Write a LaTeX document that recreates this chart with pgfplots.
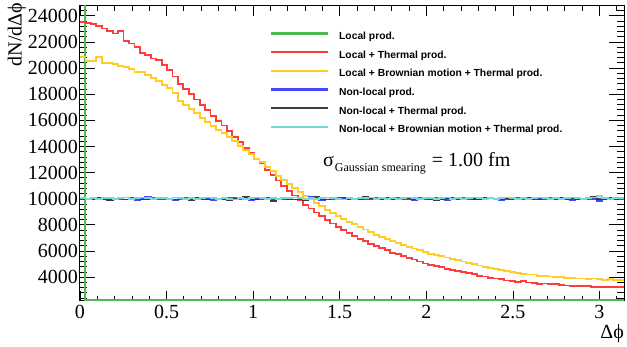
\documentclass[border=0pt]{standalone}
\usepackage{fontspec}
\setmainfont{Liberation Serif}
\setsansfont{Liberation Sans}
\usepackage{pgfplots}
\pgfplotsset{compat=1.18}
\usepackage{pgfplotstable}
\definecolor{rgreen}{RGB}{80,185,80}
\definecolor{rred}{RGB}{255,60,60}
\definecolor{ryellow}{RGB}{255,204,40}
\definecolor{rblue}{RGB}{70,70,255}
\definecolor{rblack}{RGB}{60,60,60}
\definecolor{rcyan}{RGB}{120,215,215}

\pgfplotstableread{
i red yel blu blk cya
0 23500 20850 10000 9950 10050
1 23420 20550 9950 10000 10000
2 23340 20550 10050 9950 10050
3 23210 20850 10000 10050 10000
4 23030 20400 9980 10000 10050
5 22850 20400 10020 9900 10050
6 22650 20300 9950 10000 10000
7 22850 20150 10000 10050 10050
8 22050 20100 10100 9950 10100
9 21880 19900 10050 10000 10000
10 21620 19700 9900 10100 10050
11 21150 19700 10000 9950 10100
12 20990 19450 10150 10000 10050
13 20730 19250 10050 9950 10000
14 20600 19000 9950 10100 10050
15 20220 18700 10000 10050 10050
16 19840 18450 9950 10000 10000
17 19350 18100 9900 9950 10100
18 18800 17500 10000 10050 10050
19 18400 17150 10050 10000 10000
20 18000 16850 10000 9900 10050
21 17600 16550 9950 10050 10000
22 17150 16200 10000 10000 10050
23 16800 15900 10050 9950 10100
24 16350 15550 9900 10050 10050
25 15950 15250 9950 10000 10000
26 15600 15000 10000 9950 10050
27 15200 14700 10050 9900 10000
28 14700 14400 10100 10000 9950
29 14350 14050 9950 10050 10050
30 13900 13750 10000 10150 10000
31 13500 13400 9900 10000 10050
32 13050 13050 10050 9950 10100
33 12700 12800 10000 10050 10050
34 12200 12400 10100 10000 10000
35 11800 12100 9950 9850 10050
36 11400 11750 9950 10000 10000
37 10950 11450 10000 10050 10050
38 10600 11150 10050 10000 10050
39 10250 10850 9950 9950 10100
40 9900 10500 10050 10000 10050
41 9550 10200 10000 9900 10000
42 9250 9950 10150 10050 10050
43 8950 9700 10050 10150 10000
44 8650 9450 9900 10000 10050
45 8350 9150 9950 9950 10100
46 8100 8900 10000 10050 10050
47 7850 8700 10100 9950 10000
48 7600 8450 10050 10100 9950
49 7350 8250 9950 10000 10050
50 7150 8050 10000 9950 10000
51 6950 7850 10100 10000 10050
52 6750 7650 10000 10150 10050
53 6550 7450 9950 10050 10100
54 6400 7250 10050 9950 10000
55 6250 7100 10000 10000 10050
56 6100 6900 9950 10050 10000
57 5850 6750 10050 9950 10050
58 5750 6600 10100 10000 10000
59 5600 6450 9950 10100 10050
60 5450 6300 10000 10050 10100
61 5350 6200 9900 10000 10050
62 5200 6050 10050 9950 10000
63 5050 5950 10000 10050 10050
64 4950 5800 9950 10000 10050
65 4850 5700 10050 9900 10000
66 4750 5600 10100 10000 10050
67 4650 5500 9900 10050 10100
68 4550 5400 10000 10100 10000
69 4450 5300 9950 10000 10050
70 4400 5200 10050 9950 10000
71 4300 5100 10000 10050 10050
72 4250 5000 10100 10000 10100
73 4100 4900 9950 9950 10050
74 4050 4800 10000 10100 10000
75 3950 4700 10050 10050 10050
76 3900 4600 10000 9950 10000
77 3850 4550 9900 10000 10050
78 3750 4450 9950 10050 10100
79 3700 4400 10000 10000 10050
80 3650 4300 10050 9950 10000
81 3680 4250 9950 10100 10050
82 3600 4200 10000 10050 10000
83 3550 4200 10100 10000 10050
84 3500 4100 10000 9950 10100
85 3520 4100 9950 10050 10050
86 3450 4050 10050 10000 10000
87 3450 4000 10000 9950 10050
88 3400 4000 9950 10100 10000
89 3370 3950 10000 10000 10050
90 3350 3950 9900 10050 10100
91 3340 3900 10050 10000 10050
92 3300 3900 10000 9950 10000
93 3300 3850 9950 10050 10050
94 3260 3900 10000 10150 10100
95 3250 3850 9850 10000 10200
96 3250 3800 10000 9950 10050
97 3240 3850 10050 10050 10000
98 3230 3800 9950 10000 10050
99 3220 3800 10000 10050 10050
100 3220 3800 10000 10050 10050
}\datatable

\begin{document}
\begin{tikzpicture}
\begin{axis}[
  at={(0pt,0pt)}, anchor=south west,
  scale only axis, width=544pt, height=295pt,
  xmin=0, xmax=3.14159, ymin=2200, ymax=24770,
  axis line style={line width=1pt, black},
  tick align=inside, xtick pos=both, ytick pos=both,
  xtick={0,0.5,1,1.5,2,2.5,3},
  xticklabels={0,0.5,1,1.5,2,2.5,3},
  minor xtick={0.1,0.2,0.3,0.4,0.6,0.7,0.8,0.9,1.1,1.2,1.3,1.4,1.6,1.7,1.8,1.9,2.1,2.2,2.3,2.4,2.6,2.7,2.8,2.9,3.1},
  ytick={4000,6000,8000,10000,12000,14000,16000,18000,20000,22000,24000},
  minor ytick={2400,2800,3200,3600,4400,4800,5200,5600,6400,6800,7200,7600,8400,8800,9200,9600,10400,10800,11200,11600,12400,12800,13200,13600,14400,14800,15200,15600,16400,16800,17200,17600,18400,18800,19200,19600,20400,20800,21200,21600,22400,22800,23200,23600,24400},
  scaled y ticks=false,
  /pgf/number format/1000 sep={},
  /pgf/number format/assume math mode=true,
  tick label style={font=\fontsize{20}{24}\selectfont},
  xtick style={line width=0.8pt, black, /pgfplots/major tick length=10pt, /pgfplots/minor tick length=5pt},
  ytick style={line width=0.8pt, black, /pgfplots/major tick length=15pt, /pgfplots/minor tick length=7pt},
  yticklabel style={inner xsep=2pt},
  xticklabel style={inner ysep=4pt},
  legend cell align=left,
  legend image code/.code={\fill[#1, draw=none] (0pt,2.4pt) rectangle (57pt,4.6pt);},
  legend style={draw=none, fill=none, at={(0.3511,1)}, anchor=north west, yshift=-26pt,
    inner xsep=0pt, inner ysep=0pt, row sep=8.7pt,
    font=\sffamily\bfseries\fontsize{10.3}{12}\selectfont,
    nodes={inner xsep=0pt, inner ysep=0pt, text height=7.5pt, text depth=2.5pt},
    /tikz/every odd column/.style={column sep=11pt}},
]
\addplot[color=rgreen, line width=2pt] coordinates {(0.0314159,40000) (0.0314159,2260) (3.14159,2260)};
\addplot[color=rred, line width=1.8pt, const plot] table[x expr=\thisrow{i}*pi/100, y=red] {\datatable};
\addplot[color=ryellow, line width=1.8pt, const plot] table[x expr=\thisrow{i}*pi/100, y=yel] {\datatable};
\addplot[color=rblue, line width=1.8pt, const plot] table[x expr=\thisrow{i}*pi/100, y=blu] {\datatable};
\addplot[color=rblack, line width=1.8pt, const plot] table[x expr=\thisrow{i}*pi/100, y=blk] {\datatable};
\addplot[color=rcyan, line width=1.8pt, const plot] table[x expr=\thisrow{i}*pi/100, y=cya] {\datatable};
\legend{Local prod., Local + Thermal prod., Local + Brownian motion + Thermal prod., Non-local prod., Non-local + Thermal prod., Non-local + Brownian motion + Thermal prod.}
\node[anchor=base west, font=\fontsize{20}{24}\selectfont, inner sep=0pt] at (axis cs:1.403,12430)
  {σ\hspace{1pt}\raisebox{-5pt}{\fontsize{12}{14}\selectfont Gaussian smearing}\hspace{6pt}= 1.00 fm};
\end{axis}
\node[rotate=90, anchor=base east, font=\fontsize{20}{24}\selectfont, inner sep=0pt] at (-58.4pt,298pt) {dN/dΔϕ};
\node[anchor=base east, font=\fontsize{20}{24}\selectfont, inner sep=0pt] at (544pt,-37.3pt) {Δϕ};
\pgfresetboundingbox
\path[use as bounding box] (-80pt,-45.3pt) rectangle (547pt,300.7pt);
\end{tikzpicture}
\end{document}
